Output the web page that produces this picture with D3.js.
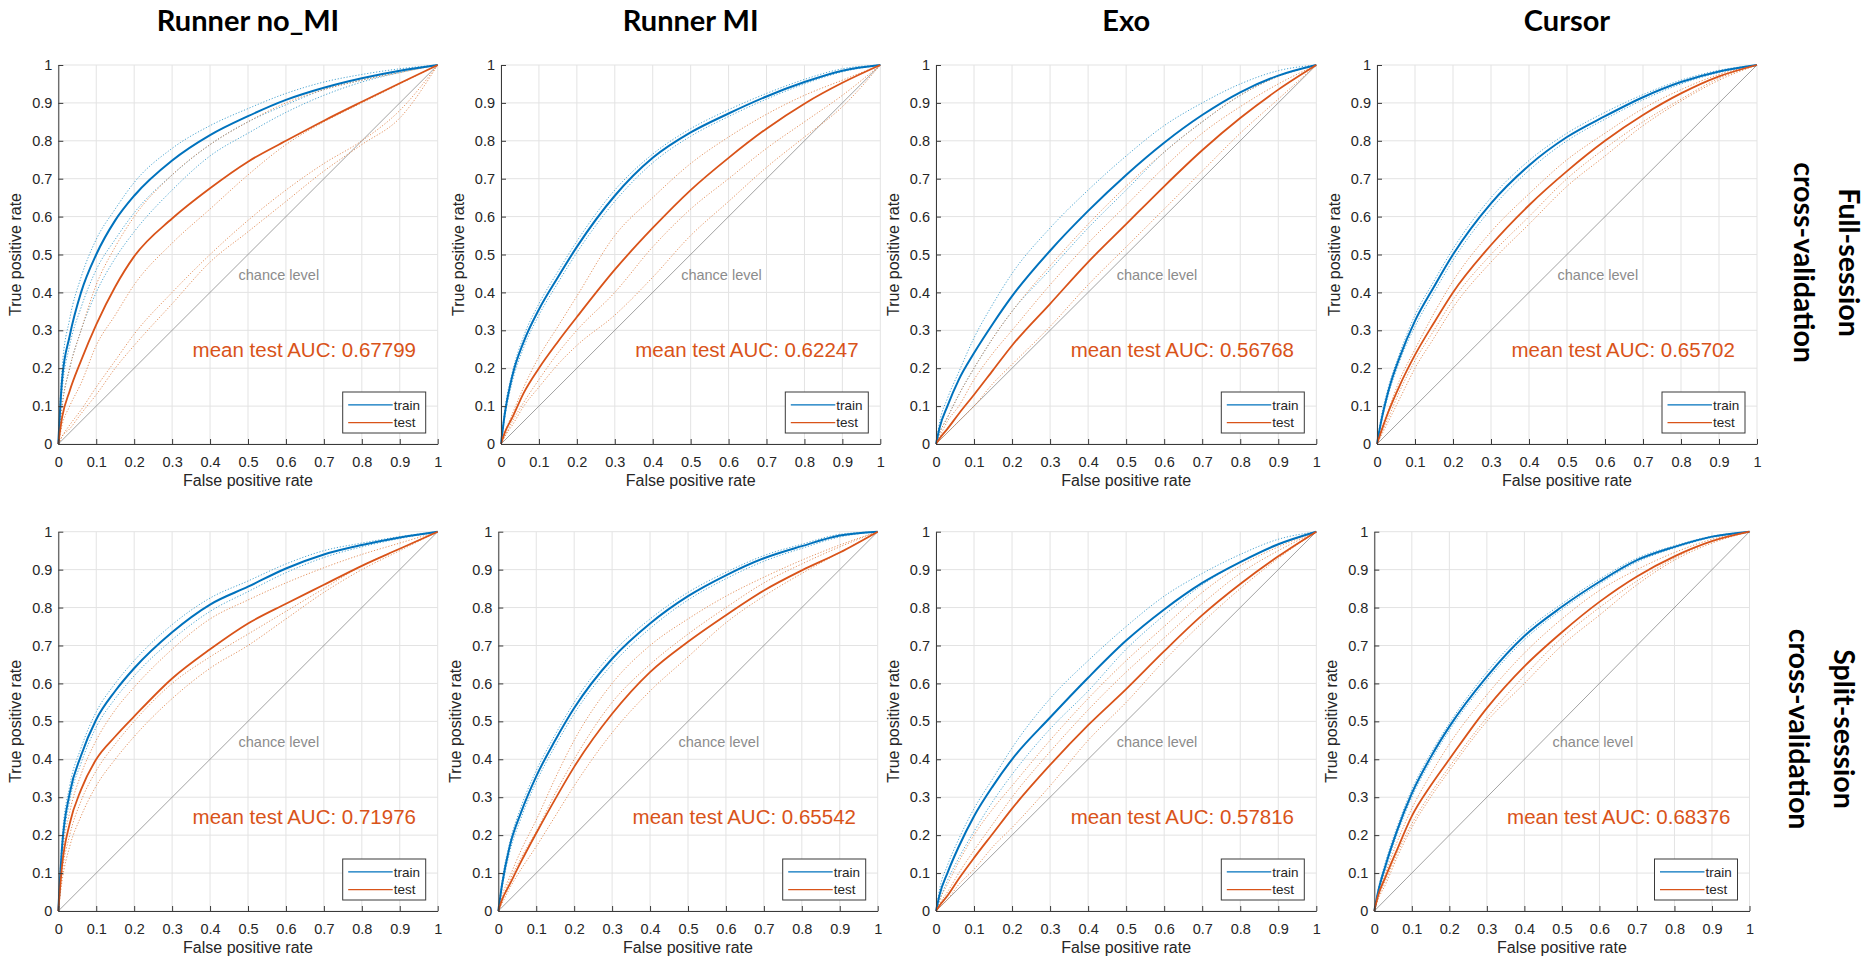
<!DOCTYPE html>
<html>
<head>
<meta charset="utf-8">
<script src="https://cdn.jsdelivr.net/npm/d3@7"></script>
<style>
  html, body { margin: 0; padding: 0; background: #ffffff; }
  svg { display: block; }
</style>
</head>
<body>
<script>
// ---------------- DATA ----------------
const columnTitles = ["Runner no_MI", "Runner MI", "Exo", "Cursor"];
const rowLabels = [["Full-session", "cross-validation"], ["Split-session", "cross-validation"]];
const aucValues = [["0.67799", "0.62247", "0.56768", "0.65702"],
                   ["0.71976", "0.65542", "0.57816", "0.68376"]];
const tickValues = [0, 0.1, 0.2, 0.3, 0.4, 0.5, 0.6, 0.7, 0.8, 0.9, 1];
const tickLabels = ["0", "0.1", "0.2", "0.3", "0.4", "0.5", "0.6", "0.7", "0.8", "0.9", "1"];
const legendLabels = ["train", "test"];
const xLabel = "False positive rate";
const yLabel = "True positive rate";
const chanceLabel = "chance level";

// false positive rate grid shared by all curves
const fpr = [0, 0.01, 0.03, 0.06, 0.1, 0.15, 0.2, 0.3, 0.4, 0.5, 0.6, 0.7, 0.8, 0.9, 1];

// ---- Full-session, Runner no_MI
const fullNoMI_train = [0, 0.17, 0.285, 0.40, 0.50, 0.59, 0.655, 0.748, 0.815, 0.865, 0.908, 0.94, 0.965, 0.985, 1];
const fullNoMI_test  = [0, 0.07, 0.14, 0.22, 0.315, 0.415, 0.495, 0.595, 0.675, 0.745, 0.80, 0.853, 0.903, 0.952, 1];
const fullNoMI_trainFolds = [
  [0, 0.20, 0.33, 0.44, 0.54, 0.62, 0.69, 0.78, 0.84, 0.885, 0.925, 0.955, 0.975, 0.99, 1],
  [0, 0.14, 0.26, 0.36, 0.46, 0.54, 0.61, 0.71, 0.79, 0.85, 0.895, 0.935, 0.96, 0.982, 1],
  [0, 0.10, 0.20, 0.30, 0.40, 0.49, 0.56, 0.67, 0.76, 0.82, 0.875, 0.92, 0.955, 0.98, 1]];
const fullNoMI_testFolds = [
  [0, 0.10, 0.20, 0.30, 0.42, 0.52, 0.60, 0.71, 0.79, 0.85, 0.90, 0.935, 0.96, 0.98, 1],
  [0, 0.05, 0.10, 0.16, 0.26, 0.34, 0.42, 0.53, 0.62, 0.71, 0.79, 0.85, 0.90, 0.95, 1],
  [0, 0.02, 0.05, 0.09, 0.15, 0.22, 0.29, 0.40, 0.50, 0.59, 0.67, 0.74, 0.80, 0.88, 1],
  [0, 0.02, 0.04, 0.08, 0.13, 0.20, 0.26, 0.37, 0.48, 0.56, 0.64, 0.72, 0.79, 0.86, 1]];

// ---- Full-session, Runner MI
const fullMI_train = [0, 0.08, 0.18, 0.27, 0.355, 0.44, 0.52, 0.655, 0.755, 0.822, 0.872, 0.917, 0.955, 0.985, 1];
const fullMI_test  = [0, 0.03, 0.07, 0.135, 0.20, 0.27, 0.335, 0.46, 0.57, 0.67, 0.755, 0.832, 0.898, 0.953, 1];
const fullMI_trainFolds = [
  [0, 0.09, 0.19, 0.285, 0.37, 0.455, 0.535, 0.67, 0.765, 0.832, 0.882, 0.925, 0.962, 0.99, 1],
  [0, 0.07, 0.165, 0.255, 0.34, 0.425, 0.505, 0.64, 0.742, 0.812, 0.864, 0.91, 0.95, 0.982, 1]];
const fullMI_testFolds = [
  [0, 0.03, 0.08, 0.15, 0.23, 0.31, 0.39, 0.55, 0.65, 0.74, 0.81, 0.87, 0.92, 0.96, 1],
  [0, 0.02, 0.06, 0.11, 0.17, 0.24, 0.30, 0.40, 0.52, 0.62, 0.70, 0.78, 0.85, 0.92, 1],
  [0, 0.02, 0.05, 0.10, 0.15, 0.21, 0.26, 0.34, 0.44, 0.55, 0.64, 0.73, 0.81, 0.89, 1]];

// ---- Full-session, Exo
const fullExo_train = [0, 0.045, 0.10, 0.17, 0.24, 0.318, 0.39, 0.51, 0.615, 0.71, 0.795, 0.868, 0.928, 0.972, 1];
const fullExo_test  = [0, 0.015, 0.04, 0.08, 0.13, 0.195, 0.26, 0.37, 0.48, 0.58, 0.68, 0.775, 0.86, 0.935, 1];
const fullExo_trainFolds = [
  [0, 0.06, 0.12, 0.19, 0.28, 0.37, 0.45, 0.57, 0.67, 0.76, 0.84, 0.90, 0.95, 0.985, 1],
  [0, 0.03, 0.07, 0.13, 0.20, 0.28, 0.35, 0.46, 0.57, 0.67, 0.77, 0.85, 0.92, 0.97, 1]];
const fullExo_testFolds = [
  [0, 0.03, 0.07, 0.13, 0.20, 0.28, 0.35, 0.47, 0.58, 0.68, 0.77, 0.85, 0.92, 0.97, 1],
  [0, 0.02, 0.06, 0.10, 0.17, 0.24, 0.30, 0.42, 0.53, 0.63, 0.73, 0.82, 0.89, 0.95, 1],
  [0, 0.01, 0.03, 0.06, 0.10, 0.16, 0.21, 0.31, 0.42, 0.52, 0.62, 0.72, 0.82, 0.91, 1]];

// ---- Full-session, Cursor
const fullCursor_train = [0, 0.055, 0.14, 0.23, 0.325, 0.415, 0.50, 0.635, 0.735, 0.81, 0.865, 0.915, 0.955, 0.983, 1];
const fullCursor_test  = [0, 0.03, 0.085, 0.155, 0.235, 0.32, 0.40, 0.525, 0.63, 0.72, 0.80, 0.868, 0.925, 0.97, 1];
const fullCursor_trainFolds = [
  [0, 0.065, 0.15, 0.24, 0.34, 0.43, 0.515, 0.65, 0.748, 0.82, 0.875, 0.922, 0.96, 0.986, 1],
  [0, 0.05, 0.13, 0.22, 0.31, 0.40, 0.485, 0.62, 0.722, 0.80, 0.857, 0.908, 0.95, 0.98, 1]];
const fullCursor_testFolds = [
  [0, 0.035, 0.09, 0.17, 0.25, 0.345, 0.43, 0.56, 0.66, 0.75, 0.82, 0.885, 0.935, 0.975, 1],
  [0, 0.025, 0.07, 0.14, 0.22, 0.30, 0.38, 0.50, 0.60, 0.70, 0.78, 0.85, 0.91, 0.965, 1],
  [0, 0.02, 0.06, 0.12, 0.20, 0.28, 0.36, 0.48, 0.58, 0.68, 0.76, 0.84, 0.905, 0.96, 1]];

// ---- Split-session, Runner no_MI
const splitNoMI_train = [0, 0.17, 0.31, 0.41, 0.505, 0.58, 0.64, 0.735, 0.808, 0.855, 0.903, 0.94, 0.965, 0.985, 1];
const splitNoMI_test  = [0, 0.12, 0.23, 0.32, 0.40, 0.46, 0.513, 0.613, 0.69, 0.758, 0.81, 0.86, 0.91, 0.955, 1];
const splitNoMI_trainFolds = [
  [0, 0.19, 0.33, 0.43, 0.525, 0.60, 0.66, 0.755, 0.825, 0.87, 0.915, 0.95, 0.97, 0.987, 1],
  [0, 0.15, 0.29, 0.39, 0.485, 0.56, 0.62, 0.715, 0.79, 0.842, 0.892, 0.932, 0.96, 0.982, 1]];
const splitNoMI_testFolds = [
  [0, 0.14, 0.26, 0.36, 0.45, 0.53, 0.59, 0.69, 0.77, 0.82, 0.865, 0.905, 0.94, 0.97, 1],
  [0, 0.10, 0.20, 0.29, 0.37, 0.44, 0.50, 0.60, 0.67, 0.73, 0.79, 0.85, 0.91, 0.955, 1],
  [0, 0.08, 0.17, 0.25, 0.33, 0.40, 0.46, 0.56, 0.64, 0.70, 0.77, 0.84, 0.90, 0.95, 1]];

// ---- Split-session, Runner MI
const splitMI_train = [0, 0.07, 0.17, 0.26, 0.355, 0.45, 0.535, 0.665, 0.758, 0.83, 0.885, 0.93, 0.962, 0.99, 1];
const splitMI_test  = [0, 0.03, 0.07, 0.13, 0.205, 0.295, 0.38, 0.52, 0.63, 0.71, 0.78, 0.845, 0.898, 0.945, 1];
const splitMI_trainFolds = [
  [0, 0.08, 0.18, 0.275, 0.37, 0.465, 0.55, 0.68, 0.77, 0.84, 0.893, 0.937, 0.967, 0.993, 1],
  [0, 0.06, 0.155, 0.245, 0.34, 0.435, 0.52, 0.65, 0.745, 0.82, 0.876, 0.922, 0.956, 0.986, 1]];
const splitMI_testFolds = [
  [0, 0.04, 0.09, 0.16, 0.24, 0.35, 0.45, 0.60, 0.70, 0.77, 0.83, 0.88, 0.925, 0.965, 1],
  [0, 0.03, 0.08, 0.14, 0.21, 0.31, 0.40, 0.55, 0.65, 0.73, 0.80, 0.865, 0.915, 0.96, 1],
  [0, 0.02, 0.06, 0.11, 0.17, 0.25, 0.33, 0.47, 0.58, 0.67, 0.76, 0.83, 0.89, 0.945, 1]];

// ---- Split-session, Exo
const splitExo_train = [0, 0.045, 0.10, 0.17, 0.25, 0.33, 0.40, 0.51, 0.615, 0.713, 0.795, 0.865, 0.92, 0.967, 1];
const splitExo_test  = [0, 0.015, 0.04, 0.085, 0.14, 0.205, 0.27, 0.385, 0.49, 0.585, 0.685, 0.78, 0.862, 0.935, 1];
const splitExo_trainFolds = [
  [0, 0.06, 0.12, 0.19, 0.27, 0.35, 0.43, 0.56, 0.66, 0.75, 0.83, 0.89, 0.94, 0.98, 1],
  [0, 0.03, 0.08, 0.14, 0.21, 0.29, 0.36, 0.48, 0.58, 0.69, 0.78, 0.86, 0.92, 0.965, 1]];
const splitExo_testFolds = [
  [0, 0.03, 0.07, 0.13, 0.20, 0.27, 0.33, 0.45, 0.56, 0.66, 0.75, 0.84, 0.91, 0.96, 1],
  [0, 0.02, 0.05, 0.10, 0.16, 0.23, 0.30, 0.42, 0.53, 0.63, 0.72, 0.81, 0.89, 0.95, 1],
  [0, 0.01, 0.03, 0.07, 0.11, 0.17, 0.22, 0.33, 0.45, 0.55, 0.66, 0.76, 0.85, 0.93, 1]];

// ---- Split-session, Cursor
const splitCursor_train = [0, 0.05, 0.12, 0.21, 0.31, 0.405, 0.486, 0.618, 0.725, 0.802, 0.868, 0.925, 0.96, 0.987, 1];
const splitCursor_test  = [0, 0.04, 0.09, 0.16, 0.25, 0.33, 0.40, 0.535, 0.645, 0.735, 0.815, 0.882, 0.935, 0.975, 1];
const splitCursor_trainFolds = [
  [0, 0.055, 0.13, 0.22, 0.32, 0.415, 0.495, 0.63, 0.735, 0.81, 0.875, 0.93, 0.963, 0.988, 1],
  [0, 0.045, 0.11, 0.20, 0.30, 0.395, 0.476, 0.608, 0.715, 0.795, 0.862, 0.92, 0.957, 0.985, 1]];
const splitCursor_testFolds = [
  [0, 0.045, 0.10, 0.18, 0.27, 0.36, 0.44, 0.57, 0.68, 0.77, 0.845, 0.90, 0.945, 0.98, 1],
  [0, 0.035, 0.08, 0.15, 0.23, 0.31, 0.38, 0.51, 0.62, 0.72, 0.80, 0.87, 0.93, 0.975, 1],
  [0, 0.03, 0.07, 0.14, 0.22, 0.30, 0.37, 0.50, 0.60, 0.70, 0.78, 0.86, 0.925, 0.97, 1]];

// ---------------- LAYOUT / STYLE ----------------
const W = 1869, H = 960;
const rowTop = [65, 531.7], rowBottom = [444, 911];
const colLeft = [[58.3, 501, 936, 1377], [58.3, 498.3, 936, 1374.3]];
const colRight = [[437.7, 880.3, 1316.3, 1757], [437.7, 877.7, 1316.3, 1749.5]];
const C = {
  train: "#0072BD", test: "#D95319",
  trainFold: "#3b9ccc", testFold: "#e0874f",
  grid: "#e3e3e3", axis: "#3a3a3a", text: "#262626", chance: "#8a8a8a", chanceText: "#8c8c8c"
};

const panelData = [
  [fullNoMI_train, fullNoMI_test, fullNoMI_trainFolds, fullNoMI_testFolds],
  [fullMI_train, fullMI_test, fullMI_trainFolds, fullMI_testFolds],
  [fullExo_train, fullExo_test, fullExo_trainFolds, fullExo_testFolds],
  [fullCursor_train, fullCursor_test, fullCursor_trainFolds, fullCursor_testFolds],
  [splitNoMI_train, splitNoMI_test, splitNoMI_trainFolds, splitNoMI_testFolds],
  [splitMI_train, splitMI_test, splitMI_trainFolds, splitMI_testFolds],
  [splitExo_train, splitExo_test, splitExo_trainFolds, splitExo_testFolds],
  [splitCursor_train, splitCursor_test, splitCursor_trainFolds, splitCursor_testFolds]
];

const svg = d3.select("body").append("svg")
  .attr("width", W).attr("height", H)
  .attr("viewBox", `0 0 ${W} ${H}`);
svg.append("rect").attr("width", W).attr("height", H).attr("fill", "#fff");

const tickFont = "'Liberation Sans', Arial, Helvetica, sans-serif";
const boldFont = "Lato, 'Open Sans', sans-serif";

function toPts(arr) { return arr.map((v, i) => [fpr[i], v]); }

for (let r = 0; r < 2; r++) {
  for (let c = 0; c < 4; c++) {
    const [trainMean, testMean, trainFolds, testFolds] = panelData[r * 4 + c];
    const x = d3.scaleLinear().domain([0, 1]).range([colLeft[r][c], colRight[r][c]]);
    const y = d3.scaleLinear().domain([0, 1]).range([rowBottom[r], rowTop[r]]);
    const g = svg.append("g");

    // grid
    g.selectAll(".vg").data(tickValues).join("line")
      .attr("x1", d => x(d)).attr("x2", d => x(d))
      .attr("y1", y(0)).attr("y2", y(1))
      .attr("stroke", C.grid).attr("stroke-width", 1);
    g.selectAll(".hg").data(tickValues).join("line")
      .attr("y1", d => y(d)).attr("y2", d => y(d))
      .attr("x1", x(0)).attr("x2", x(1))
      .attr("stroke", C.grid).attr("stroke-width", 1);

    // chance line
    g.append("line")
      .attr("x1", x(0)).attr("y1", y(0)).attr("x2", x(1)).attr("y2", y(1))
      .attr("stroke", C.chance).attr("stroke-width", 0.8);

    const line = d3.line().x(d => x(d[0])).y(d => y(d[1])).curve(d3.curveMonotoneX);

    // fold curves (dotted)
    trainFolds.forEach(f => {
      g.append("path").attr("d", line(toPts(f)))
        .attr("fill", "none").attr("stroke", C.trainFold)
        .attr("stroke-width", 0.9).attr("stroke-dasharray", "1.2,1.8");
    });
    testFolds.forEach(f => {
      g.append("path").attr("d", line(toPts(f)))
        .attr("fill", "none").attr("stroke", C.testFold)
        .attr("stroke-width", 0.9).attr("stroke-dasharray", "1.2,1.8");
    });

    // mean curves
    g.append("path").attr("d", line(toPts(trainMean)))
      .attr("fill", "none").attr("stroke", C.train).attr("stroke-width", 2);
    g.append("path").attr("d", line(toPts(testMean)))
      .attr("fill", "none").attr("stroke", C.test).attr("stroke-width", 1.8);

    // axes
    const ax = g.append("g").attr("transform", `translate(0,${y(0)})`)
      .call(d3.axisBottom(x).tickValues(tickValues)
        .tickFormat((d, i) => tickLabels[i])
        .tickSizeInner(-5).tickSizeOuter(0).tickPadding(12.7));
    const ay = g.append("g").attr("transform", `translate(${x(0)},0)`)
      .call(d3.axisLeft(y).tickValues(tickValues)
        .tickFormat((d, i) => tickLabels[i])
        .tickSizeInner(-5).tickSizeOuter(0).tickPadding(6));
    [ax, ay].forEach(a => {
      a.select(".domain").attr("stroke", C.axis).attr("stroke-width", 1);
      a.selectAll(".tick line").attr("stroke", C.axis).attr("stroke-width", 1);
      a.selectAll(".tick text").attr("fill", C.text)
        .style("font-family", tickFont).style("font-size", "14.5px");
    });

    // axis labels
    g.append("text")
      .attr("x", (x(0) + x(1)) / 2).attr("y", y(0) + 42)
      .attr("text-anchor", "middle").attr("fill", C.text)
      .style("font-family", tickFont).style("font-size", "16px")
      .text(xLabel);
    g.append("text")
      .attr("transform", `translate(${x(0) - 37},${(y(0) + y(1)) / 2}) rotate(-90)`)
      .attr("text-anchor", "middle").attr("fill", C.text)
      .style("font-family", tickFont).style("font-size", "16px")
      .text(yLabel);

    // chance level label
    g.append("text")
      .attr("x", x(0.475)).attr("y", y(0.445) + 5)
      .attr("fill", C.chanceText)
      .style("font-family", tickFont).style("font-size", "14.5px")
      .text(chanceLabel);

    // AUC annotation
    g.append("text")
      .attr("x", x(0.354)).attr("y", y(0.25) + 7.5)
      .attr("fill", C.test)
      .style("font-family", tickFont).style("font-size", "20.5px")
      .text("mean test AUC: " + aucValues[r][c]);

    // legend
    const lw = 83, lh = 41;
    const lx = x(1) - 12 - lw, ly = y(0) - 11 - lh;
    const lg = g.append("g").attr("transform", `translate(${lx},${ly})`);
    lg.append("rect").attr("width", lw).attr("height", lh)
      .attr("fill", "#fff").attr("stroke", C.axis).attr("stroke-width", 1);
    [[legendLabels[0], C.train, 12.8], [legendLabels[1], C.test, 30.6]].forEach(([lab, col, yy]) => {
      lg.append("line").attr("x1", 5.5).attr("x2", 50).attr("y1", yy).attr("y2", yy)
        .attr("stroke", col).attr("stroke-width", 1.3);
      lg.append("text").attr("x", 51).attr("y", yy + 4.8)
        .attr("fill", C.text)
        .style("font-family", tickFont).style("font-size", "13.5px")
        .text(lab);
    });

    // column titles (top row only)
    if (r === 0) {
      svg.append("text")
        .attr("x", (x(0) + x(1)) / 2).attr("y", 31)
        .attr("text-anchor", "middle").attr("fill", "#000")
        .style("font-family", boldFont).style("font-weight", "700").style("font-size", "29px")
        .text(columnTitles[c]);
    }
  }
}

// row labels on the right (rotated, reading top-to-bottom)
const rowLabelCenters = [[1826, 262.5], [1821, 729]];
rowLabels.forEach((lines, r) => {
  const [cx, cy] = rowLabelCenters[r];
  const t = svg.append("g").attr("transform", `translate(${cx},${cy}) rotate(90)`);
  lines.forEach((txt, i) => {
    t.append("text")
      .attr("x", 0).attr("y", (i === 0 ? -22.5 : 22.5) + 10)
      .attr("text-anchor", "middle").attr("fill", "#000")
      .style("font-family", boldFont).style("font-weight", "700").style("font-size", "28.5px")
      .text(txt);
  });
});
</script>
</body>
</html>
